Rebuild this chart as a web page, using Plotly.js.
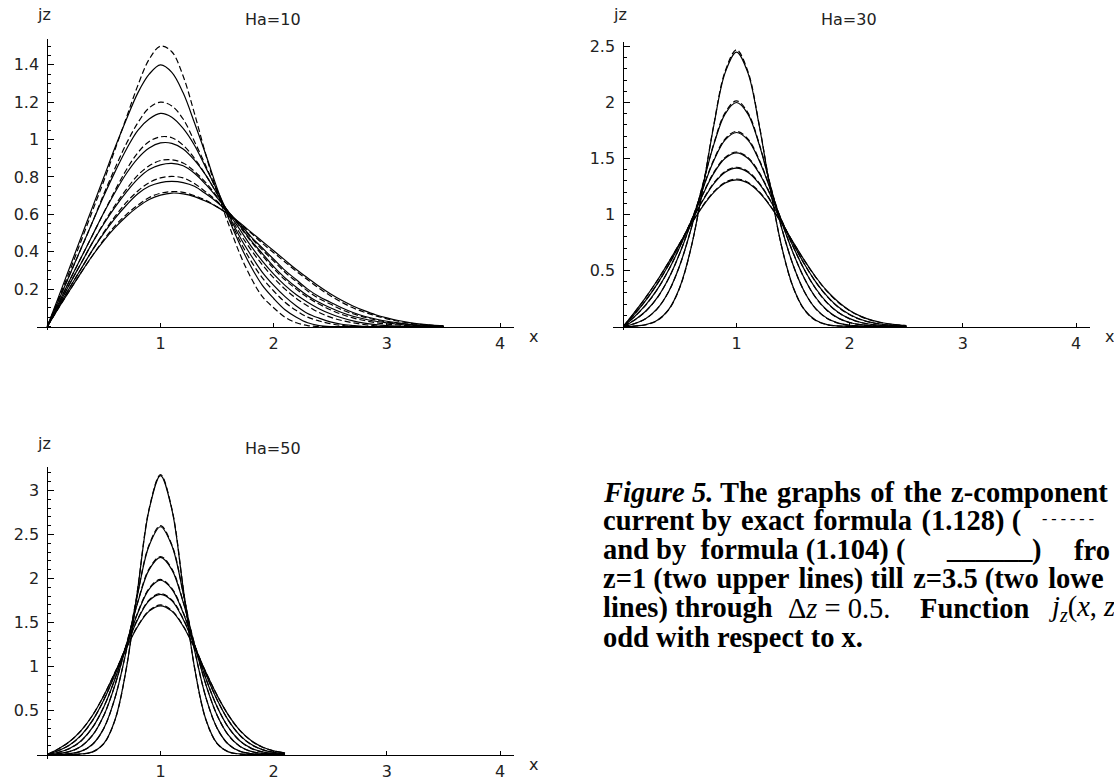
<!DOCTYPE html>
<html><head><meta charset="utf-8">
<script src="https://cdn.plot.ly/plotly-3.0.1.min.js"></script>
<style>html,body{margin:0;padding:0;background:#fff;overflow:hidden}#chart{width:1114px;height:784px;}</style>
</head><body><div id="chart"></div>
<script>
// ---------- data ----------
const panelTitles = ['Ha=10', 'Ha=30', 'Ha=50'];
const zLevels = [1, 1.5, 2, 2.5, 3, 3.5];

// Ha = 10, x = 0 .. 3.5
const xHa10 = [0,0.1,0.2,0.3,0.4,0.5,0.6,0.7,0.8,0.9,1.0,1.1,1.2,1.3,1.4,1.5,1.6,1.7,1.8,1.9,2.0,2.1,2.2,2.3,2.4,2.5,2.6,2.7,2.8,2.9,3.0,3.1,3.2,3.3,3.4,3.5];
const ha10Approx = [
  [0,0.16,0.32,0.48,0.64,0.80,0.96,1.11,1.25,1.35,1.40,1.36,1.25,1.09,0.92,0.74,0.58,0.44,0.32,0.22,0.15,0.09,0.05,0.02,0.005,0,0,0,0,0,0,0,0,0,0,0],
  [0,0.14,0.28,0.42,0.56,0.70,0.83,0.95,1.05,1.11,1.14,1.12,1.06,0.97,0.85,0.73,0.60,0.48,0.38,0.29,0.22,0.16,0.11,0.07,0.045,0.025,0.012,0.005,0,0,0,0,0,0,0,0],
  [0,0.125,0.25,0.37,0.49,0.61,0.72,0.82,0.90,0.955,0.982,0.98,0.95,0.89,0.81,0.71,0.61,0.52,0.43,0.35,0.28,0.22,0.17,0.13,0.095,0.068,0.047,0.03,0.018,0.01,0.005,0.002,0,0,0,0],
  [0,0.115,0.23,0.34,0.45,0.55,0.64,0.72,0.79,0.84,0.865,0.873,0.86,0.82,0.76,0.69,0.615,0.54,0.46,0.39,0.32,0.26,0.21,0.165,0.13,0.10,0.075,0.055,0.04,0.028,0.019,0.012,0.007,0.004,0.002,0],
  [0,0.105,0.21,0.31,0.41,0.50,0.58,0.65,0.71,0.75,0.77,0.776,0.77,0.75,0.71,0.665,0.61,0.55,0.48,0.42,0.36,0.30,0.25,0.20,0.16,0.13,0.10,0.075,0.055,0.04,0.028,0.019,0.012,0.007,0.004,0.002],
  [0,0.10,0.195,0.29,0.38,0.46,0.53,0.59,0.64,0.68,0.703,0.714,0.71,0.695,0.67,0.64,0.60,0.555,0.505,0.455,0.405,0.355,0.305,0.26,0.215,0.175,0.14,0.11,0.085,0.063,0.046,0.032,0.021,0.013,0.007,0.003]
];
const ha10Exact = [
  [0,0.15,0.30,0.46,0.62,0.78,0.95,1.12,1.29,1.43,1.50,1.47,1.34,1.14,0.92,0.72,0.55,0.39,0.26,0.16,0.10,0.05,0.02,0.005,0,0,0,0,0,0,0,0,0,0,0,0],
  [0,0.14,0.28,0.42,0.56,0.71,0.85,0.98,1.09,1.17,1.20,1.18,1.11,0.99,0.86,0.72,0.59,0.46,0.35,0.26,0.19,0.13,0.085,0.05,0.03,0.015,0.006,0,0,0,0,0,0,0,0,0],
  [0,0.125,0.25,0.37,0.49,0.61,0.73,0.84,0.93,0.99,1.015,1.01,0.97,0.90,0.81,0.71,0.605,0.50,0.41,0.33,0.26,0.20,0.15,0.11,0.075,0.05,0.032,0.02,0.01,0.004,0,0,0,0,0,0],
  [0,0.115,0.23,0.34,0.45,0.555,0.65,0.735,0.81,0.86,0.888,0.892,0.875,0.83,0.77,0.695,0.615,0.535,0.455,0.38,0.31,0.25,0.20,0.155,0.12,0.09,0.065,0.046,0.032,0.021,0.013,0.008,0.004,0,0,0],
  [0,0.105,0.21,0.31,0.41,0.505,0.59,0.665,0.725,0.77,0.795,0.803,0.795,0.765,0.72,0.67,0.61,0.545,0.475,0.41,0.35,0.29,0.24,0.19,0.15,0.12,0.09,0.068,0.05,0.035,0.024,0.016,0.01,0.005,0.002,0],
  [0,0.10,0.195,0.29,0.38,0.465,0.54,0.60,0.65,0.69,0.713,0.722,0.718,0.70,0.675,0.64,0.60,0.55,0.50,0.445,0.395,0.345,0.295,0.25,0.205,0.165,0.13,0.10,0.077,0.057,0.041,0.028,0.018,0.011,0.006,0.002]
];

// Ha = 30, x = 0 .. 2.5
const xHa30 = [0,0.1,0.2,0.3,0.4,0.5,0.6,0.7,0.8,0.9,1.0,1.1,1.2,1.3,1.4,1.5,1.6,1.7,1.8,1.9,2.0,2.1,2.2,2.3,2.4,2.5];
const ha30Approx = [
  [0,0.004,0.017,0.055,0.150,0.353,0.709,1.219,1.797,2.267,2.45,2.267,1.797,1.219,0.709,0.353,0.150,0.055,0.017,0.005,0.001,0,0,0,0,0],
  [0,0.027,0.072,0.159,0.311,0.549,0.875,1.256,1.626,1.899,2.0,1.899,1.626,1.256,0.875,0.549,0.311,0.159,0.073,0.030,0.011,0.004,0.001,0,0,0],
  [0,0.059,0.138,0.257,0.428,0.657,0.931,1.222,1.483,1.666,1.732,1.666,1.483,1.222,0.931,0.657,0.429,0.259,0.145,0.075,0.036,0.016,0.0065,0.0025,0.001,0],
  [0,0.089,0.195,0.331,0.504,0.712,0.943,1.172,1.369,1.502,1.55,1.502,1.369,1.172,0.944,0.714,0.507,0.339,0.213,0.126,0.070,0.036,0.018,0.008,0.004,0.001],
  [0,0.112,0.236,0.381,0.549,0.737,0.934,1.120,1.276,1.378,1.414,1.378,1.276,1.121,0.936,0.741,0.558,0.399,0.271,0.174,0.107,0.062,0.034,0.018,0.009,0.004],
  [0,0.128,0.263,0.411,0.573,0.744,0.914,1.071,1.198,1.281,1.310,1.281,1.199,1.073,0.919,0.753,0.590,0.442,0.317,0.218,0.143,0.090,0.054,0.031,0.017,0.009]
];
const ha30Exact = [
  [0,0.004,0.016,0.053,0.148,0.350,0.708,1.222,1.805,2.280,2.47,2.280,1.805,1.222,0.708,0.350,0.148,0.053,0.016,0.004,0.001,0,0,0,0,0],
  [0,0.026,0.071,0.158,0.310,0.549,0.877,1.261,1.634,1.910,2.015,1.910,1.634,1.261,0.877,0.549,0.310,0.158,0.072,0.029,0.010,0.003,0.001,0,0,0],
  [0,0.058,0.137,0.256,0.428,0.658,0.934,1.228,1.491,1.676,1.742,1.676,1.491,1.228,0.934,0.658,0.428,0.257,0.143,0.073,0.035,0.015,0.006,0.002,0.001,0],
  [0,0.088,0.194,0.330,0.504,0.713,0.946,1.177,1.376,1.510,1.558,1.510,1.376,1.177,0.946,0.714,0.506,0.337,0.211,0.124,0.068,0.035,0.017,0.007,0.003,0.001],
  [0,0.111,0.235,0.380,0.549,0.738,0.937,1.125,1.282,1.385,1.422,1.385,1.282,1.125,0.938,0.741,0.556,0.397,0.268,0.171,0.105,0.060,0.033,0.017,0.008,0.003],
  [0,0.127,0.262,0.410,0.573,0.745,0.917,1.076,1.204,1.288,1.317,1.288,1.204,1.076,0.920,0.752,0.588,0.439,0.314,0.215,0.141,0.088,0.053,0.030,0.016,0.008]
];

// Ha = 50, x = 0 .. 2.1
const xHa50 = [0,0.1,0.2,0.3,0.4,0.5,0.6,0.7,0.8,0.9,1.0,1.1,1.2,1.3,1.4,1.5,1.6,1.7,1.8,1.9,2.0,2.1];
const ha50Approx = [
  [0,0,0.001,0.006,0.030,0.126,0.401,0.991,1.891,2.786,3.17,2.786,1.891,0.991,0.401,0.126,0.030,0.006,0.001,0,0,0],
  [0,0.002,0.011,0.038,0.117,0.300,0.652,1.192,1.834,2.374,2.588,2.374,1.834,1.192,0.652,0.300,0.117,0.038,0.010,0.002,0,0],
  [0,0.011,0.035,0.095,0.219,0.446,0.797,1.253,1.731,2.101,2.24,2.101,1.731,1.253,0.797,0.446,0.219,0.095,0.036,0.012,0.004,0.001],
  [0,0.026,0.071,0.157,0.308,0.543,0.866,1.243,1.610,1.880,1.98,1.880,1.610,1.243,0.866,0.543,0.308,0.157,0.072,0.030,0.011,0.004],
  [0,0.046,0.112,0.220,0.387,0.622,0.917,1.240,1.537,1.749,1.82,1.749,1.537,1.240,0.917,0.622,0.388,0.221,0.116,0.056,0.025,0.010],
  [0,0.066,0.151,0.274,0.446,0.671,0.936,1.212,1.458,1.629,1.69,1.629,1.458,1.212,0.936,0.672,0.448,0.277,0.159,0.085,0.042,0.019]
];
const ha50Exact = [
  [0,0,0.001,0.005,0.029,0.124,0.399,0.992,1.896,2.795,3.18,2.795,1.896,0.992,0.399,0.124,0.029,0.005,0.001,0,0,0],
  [0,0.002,0.010,0.037,0.115,0.299,0.653,1.196,1.842,2.384,2.60,2.384,1.842,1.196,0.653,0.299,0.115,0.037,0.010,0.002,0,0],
  [0,0.010,0.034,0.094,0.218,0.447,0.800,1.259,1.739,2.110,2.25,2.110,1.739,1.259,0.800,0.447,0.218,0.094,0.035,0.011,0.003,0.001],
  [0,0.025,0.070,0.156,0.308,0.544,0.869,1.248,1.617,1.889,1.99,1.889,1.617,1.248,0.869,0.544,0.307,0.155,0.070,0.029,0.010,0.003],
  [0,0.045,0.111,0.219,0.387,0.623,0.920,1.245,1.544,1.757,1.83,1.757,1.544,1.245,0.920,0.623,0.387,0.219,0.114,0.055,0.024,0.009],
  [0,0.065,0.150,0.273,0.446,0.672,0.939,1.217,1.464,1.636,1.70,1.636,1.464,1.217,0.939,0.672,0.447,0.275,0.157,0.083,0.041,0.018]
];

// tick labels
const xTickVals = [1, 2, 3, 4];
const xTickText = ['1', '2', '3', '4'];
const yTickVals10 = [0.2, 0.4, 0.6, 0.8, 1, 1.2, 1.4];
const yTickText10 = ['0.2', '0.4', '0.6', '0.8', '1', '1.2', '1.4'];
const yTickVals30 = [0.5, 1, 1.5, 2, 2.5];
const yTickText30 = ['0.5', '1', '1.5', '2', '2.5'];
const yTickVals50 = [0.5, 1, 1.5, 2, 2.5, 3];
const yTickText50 = ['0.5', '1', '1.5', '2', '2.5', '3'];

// ---------- drawing ----------
const W = 1114, H = 784;
const px = v => v / W;           // pixel -> paper x
const py = v => 1 - v / H;       // pixel -> paper y

const panels = [
  {x: xHa10, approx: ha10Approx, exact: ha10Exact, xa: 'x',  ya: 'y'},
  {x: xHa30, approx: ha30Approx, exact: ha30Exact, xa: 'x2', ya: 'y2'},
  {x: xHa50, approx: ha50Approx, exact: ha50Exact, xa: 'x3', ya: 'y3'}
];

const traces = [];
panels.forEach(p => {
  zLevels.forEach((z, i) => {
    traces.push({x: p.x, y: p.exact[i], xaxis: p.xa, yaxis: p.ya, type: 'scatter', mode: 'lines',
      name: 'exact z=' + z, line: {color: '#000', width: 1.2, dash: '6px,3px', shape: 'spline', smoothing: 1}, hoverinfo: 'skip'});
    traces.push({x: p.x, y: p.approx[i], xaxis: p.xa, yaxis: p.ya, type: 'scatter', mode: 'lines',
      name: 'approx z=' + z, line: {color: '#000', width: 1.2, shape: 'spline', smoothing: 1}, hoverinfo: 'skip'});
  });
});

const tickFont = {family: 'DejaVu Sans, Arial, sans-serif', size: 16, color: '#222'};

function xAxis(domPx, rng, posPx) {
  return {domain: [px(domPx[0]), px(domPx[1])], range: rng, anchor: 'free', position: py(posPx),
    showline: true, linecolor: '#000', linewidth: 1, ticks: 'inside', ticklen: 4, tickcolor: '#000',
    tickvals: xTickVals, ticktext: xTickText, tickfont: tickFont, showgrid: false, zeroline: false,
    ticklabelstandoff: 2, fixedrange: true};
}
function yAxis(domPx, rng, posPx, tv, tt, minorStep) {
  return {domain: [py(domPx[1]), py(domPx[0])], range: rng, anchor: 'free', position: px(posPx),
    showline: true, linecolor: '#000', linewidth: 1, ticks: 'inside', ticklen: 6, tickcolor: '#000',
    tickvals: tv, ticktext: tt, tickfont: tickFont, showgrid: false, zeroline: false,
    minor: {ticks: 'inside', ticklen: 3, tickcolor: '#000', dtick: minorStep, tick0: 0, showgrid: false},
    ticklabelstandoff: 5, fixedrange: true};
}

// panel geometry in pixels
const xL = 37, xR = 514, off2 = 576;
const xRange = [(xL - 47.3) / 113.2, (xR - 47.3) / 113.2];
const y1 = 326.5, s1 = 186.9, y2 = 326.5, s2 = 112, y3 = 754.5, s3 = 88;

const layout = {
  width: W, height: H, margin: {l: 0, r: 0, t: 0, b: 0},
  paper_bgcolor: '#fff', plot_bgcolor: 'rgba(0,0,0,0)', showlegend: false,
  xaxis:  xAxis([xL, xR], xRange, y1),
  yaxis:  yAxis([39.3, 330], [(y1 - 330) / s1, (y1 - 39.3) / s1], 47.3, yTickVals10, yTickText10, 0.05),
  xaxis2: xAxis([xL + off2, xR + off2], xRange, y2),
  yaxis2: yAxis([41.7, 330], [(y2 - 330) / s2, (y2 - 41.7) / s2], 47.3 + off2, yTickVals30, yTickText30, 0.1),
  xaxis3: xAxis([xL, xR], xRange, y3),
  yaxis3: yAxis([466.7, 759], [(y3 - 759) / s3, (y3 - 466.7) / s3], 47.3, yTickVals50, yTickText50, 0.1),
  annotations: []
};

const lblFont = {family: 'DejaVu Sans, Arial, sans-serif', size: 16, color: '#222'};
function ann(text, xPx, yPx, font, xanchor) {
  layout.annotations.push({text: text, x: px(xPx), y: py(yPx), xref: 'paper', yref: 'paper',
    xanchor: xanchor || 'center', yanchor: 'middle', showarrow: false, font: font, align: 'left'});
}
// axis labels and titles
ann('jz', 44, 15, lblFont);
ann(panelTitles[0], 273, 20, lblFont);
ann('x', 533, 336, lblFont);
ann('jz', 44 + off2, 15, lblFont);
ann(panelTitles[1], 273 + off2, 20, lblFont);
ann('x', 533 + off2, 336, lblFont);
ann('jz', 44, 443, lblFont);
ann(panelTitles[2], 273, 448, lblFont);
ann('x', 533, 764, lblFont);

// caption (justified text in the original, cut at the right page edge)
const capB = {family: 'Liberation Serif, Times New Roman, serif', size: 28.5, color: '#000', weight: 'bold'};
const capR = {family: 'Liberation Serif, Times New Roman, serif', size: 28.5, color: '#000', weight: 'normal'};
const capSmall = {family: 'Liberation Serif, Times New Roman, serif', size: 16, color: '#000', weight: 'normal'};
const T = ' \u200A';   // slightly widened word gap (justification)
const cx = 601, ly = [492, 521, 550, 579, 608, 637];
ann('<i>Figure 5.</i> The' + T + 'graphs' + T + 'of' + T + 'the' + T + 'z-component', cx, ly[0], capB, 'left');
ann('current by' + T + 'exact' + T + 'formula' + T + '(1.128) (', cx, ly[1], capB, 'left');
ann('- - - - - -', 1040, ly[1] - 3, capSmall, 'left');
ann('and by  formula (1.104) (', cx, ly[2], capB, 'left');
ann('______', 944, ly[2] - 2, capB, 'left');
ann(')', 1030, ly[2], capB, 'left');
ann('fro', 1072, ly[2], capB, 'left');
ann('z=1 (two' + T + 'upper' + T + 'lines) till' + T + 'z=3.5 (two' + T + 'lowe', cx, ly[3], capB, 'left');
ann('lines) through', cx, ly[4], capB, 'left');
ann('\u0394<i>z</i> = 0.5.', 786, ly[4], capR, 'left');
ann('Function', 918, ly[4], capB, 'left');
ann('<i>j</i><sub><i>z</i></sub>(<i>x</i>, <i>z</i>', 1046, ly[4], capR, 'left');
ann('odd with respect to x.', cx, ly[5], capB, 'left');

Plotly.newPlot('chart', traces, layout, {staticPlot: true, displayModeBar: false});
</script></body></html>
